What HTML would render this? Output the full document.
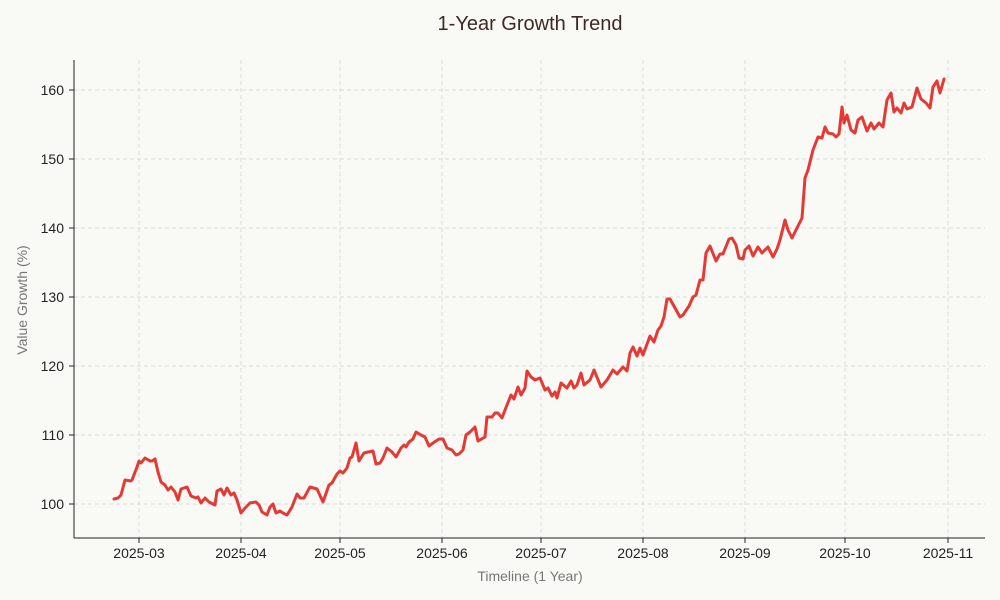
<!DOCTYPE html>
<html><head><meta charset="utf-8"><style>
html,body{margin:0;padding:0;background:#f9f9f6;}
svg{display:block;font-family:"Liberation Sans",sans-serif;}
</style></head><body>
<svg width="1000" height="600" viewBox="0 0 1000 600" xmlns="http://www.w3.org/2000/svg">
<rect width="1000" height="600" fill="#f9f9f6"/>
<g stroke="#dcdcd8" stroke-width="1" stroke-dasharray="4,3">
<line x1="139" y1="60" x2="139" y2="538"/><line x1="241" y1="60" x2="241" y2="538"/>
<line x1="340" y1="60" x2="340" y2="538"/><line x1="442" y1="60" x2="442" y2="538"/>
<line x1="541" y1="60" x2="541" y2="538"/><line x1="643" y1="60" x2="643" y2="538"/>
<line x1="745" y1="60" x2="745" y2="538"/><line x1="845" y1="60" x2="845" y2="538"/>
<line x1="948" y1="60" x2="948" y2="538"/>
<line x1="74" y1="504" x2="985" y2="504"/><line x1="74" y1="435" x2="985" y2="435"/>
<line x1="74" y1="366" x2="985" y2="366"/><line x1="74" y1="297" x2="985" y2="297"/>
<line x1="74" y1="228" x2="985" y2="228"/><line x1="74" y1="159" x2="985" y2="159"/>
<line x1="74" y1="90" x2="985" y2="90"/>
</g>
<g stroke="#222" stroke-width="1">
<line x1="74" y1="60" x2="74" y2="538"/><line x1="74" y1="538" x2="985" y2="538"/>
<line x1="139" y1="538" x2="139" y2="543"/><line x1="241" y1="538" x2="241" y2="543"/>
<line x1="340" y1="538" x2="340" y2="543"/><line x1="442" y1="538" x2="442" y2="543"/>
<line x1="541" y1="538" x2="541" y2="543"/><line x1="643" y1="538" x2="643" y2="543"/>
<line x1="745" y1="538" x2="745" y2="543"/><line x1="845" y1="538" x2="845" y2="543"/>
<line x1="948" y1="538" x2="948" y2="543"/>
<line x1="69" y1="504" x2="74" y2="504"/><line x1="69" y1="435" x2="74" y2="435"/>
<line x1="69" y1="366" x2="74" y2="366"/><line x1="69" y1="297" x2="74" y2="297"/>
<line x1="69" y1="228" x2="74" y2="228"/><line x1="69" y1="159" x2="74" y2="159"/>
<line x1="69" y1="90" x2="74" y2="90"/>
</g>
<g font-size="14" fill="#222" text-anchor="middle">
<text x="139" y="558">2025-03</text><text x="241" y="558">2025-04</text>
<text x="340" y="558">2025-05</text><text x="442" y="558">2025-06</text>
<text x="541" y="558">2025-07</text><text x="643" y="558">2025-08</text>
<text x="745" y="558">2025-09</text><text x="845" y="558">2025-10</text>
<text x="948" y="558">2025-11</text>
</g>
<g font-size="14" fill="#222" text-anchor="end">
<text x="64" y="509">100</text><text x="64" y="440">110</text><text x="64" y="371">120</text>
<text x="64" y="302">130</text><text x="64" y="233">140</text><text x="64" y="164">150</text>
<text x="64" y="95">160</text>
</g>
<text x="530" y="581" font-size="14" fill="#777" text-anchor="middle">Timeline (1 Year)</text>
<text x="27" y="300" font-size="14" fill="#777" text-anchor="middle" transform="rotate(-90 27 300)">Value Growth (%)</text>
<text x="530" y="30" font-size="20" fill="#3d2a24" text-anchor="middle">1-Year Growth Trend</text>
<polyline fill="none" stroke="#e53935" stroke-width="3" stroke-linejoin="round" stroke-linecap="round" points="
114,499 118,498 121,495 125,480 131,481 132,480 137,467 139,461 141,463 145,458 150,461 152,461 155,459 158,472 161,482 165,485 168,490 171,487 175,492 178,500 181,489 187,487 191,496 196,498 198,497 201,503 205,498 209,502 215,505 217,491 221,489 224,495 227,488 231,495 234,493 237,500 241,513 245,508 250,503 256,502 259,505 262,512 267,515 270,507 273,504 276,513 280,511 283,513 287,515 292,507 297,494 300,498 304,498 310,487 317,489 323,502 329,485 332,483 337,474 340,471 343,473 347,468 350,458 352,457 356,443 359,461 364,453 368,452 373,451 376,464 380,463 383,458 387,448 392,452 396,457 401,448 404,445 406,447 409,442 413,439 416,432 421,435 425,437 429,446 433,443 439,439 443,439 447,448 452,450 456,455 459,454 463,450 466,435 470,432 475,427 478,441 485,437 487,417 492,417 495,413 498,413 502,418 505,410 511,395 514,399 518,387 521,395 525,388 527,371 531,377 535,380 540,378 545,390 548,388 552,396 555,392 557,398 561,383 567,388 571,381 574,388 577,385 581,373 584,385 590,380 594,370 601,387 607,380 613,370 617,374 623,367 627,371 630,353 633,347 637,356 640,348 643,355 650,336 654,342 658,330 661,326 664,317 667,299 670,299 680,317 683,315 689,306 693,297 696,295 700,280 703,280 706,253 710,246 716,261 720,254 723,254 729,239 732,238 736,245 739,258 743,259 745,250 749,246 753,256 758,247 762,253 768,247 773,257 777,249 780,240 785,220 788,230 792,238 797,228 802,218 805,178 808,170 813,150 818,137 822,138 825,127 828,133 833,134 836,137 839,134 842,107 844,123 847,115 851,130 855,133 858,120 862,117 867,131 871,123 874,129 879,123 883,127 887,100 891,93 894,112 897,108 901,113 904,103 907,109 912,107 917,88 921,99 926,103 930,108 933,87 937,81 940,93 944,79"/>
</svg>
</body></html>
